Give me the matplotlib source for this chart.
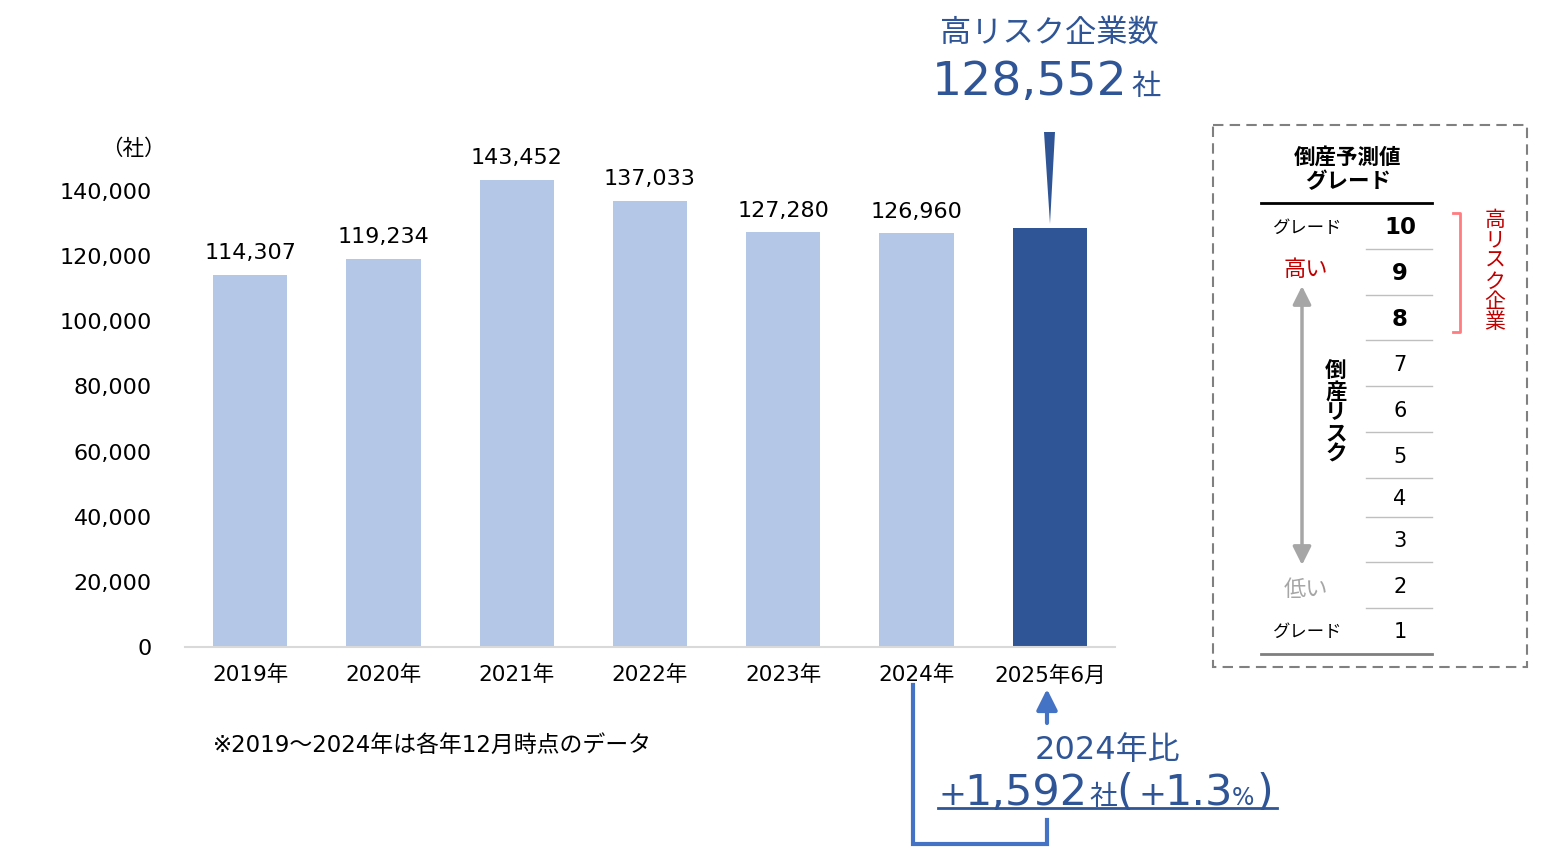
import matplotlib
matplotlib.use("Agg")
import matplotlib.pyplot as plt
from matplotlib.patches import Polygon, FancyArrowPatch, Rectangle
from matplotlib.ticker import FuncFormatter

plt.rcParams['font.family'] = ['DejaVu Sans', 'Noto Sans CJK JP']

# data
years = ["2019年", "2020年", "2021年", "2022年", "2023年", "2024年", "2025年6月"]
counts = [114307, 119234, 143452, 137033, 127280, 126960, 128552]
highlight = [False, False, False, False, False, False, True]
y_ticks = [0, 20000, 40000, 60000, 80000, 100000, 120000, 140000]

grades = ["10", "9", "8", "7", "6", "5", "4", "3", "2", "1"]
grade_bold = [True, True, True, False, False, False, False, False, False, False]

light = "#B4C7E7"
dark = "#2F5597"
navy = "#2F5597"
red = "#C00000"

W, H = 1546, 847
fig = plt.figure(figsize=(W / 100, H / 100), dpi=100)

# main bar axes (pixel layout converted to fractions)
ax = fig.add_axes([185 / W, (H - 647) / H, 930 / W, (647 - 158.4) / H])
x = list(range(len(years)))
cols = [dark if h else light for h in highlight]
ax.bar(x, counts, width=0.556, color=cols, zorder=2)
ax.set_xlim(-0.49, 6.49)
ax.set_ylim(0, 150000)
ax.set_yticks(y_ticks)
ax.yaxis.set_major_formatter(FuncFormatter(lambda v, p: f"{int(v):,}"))
ax.set_xticks(x)
ax.set_xticklabels(years)
ax.tick_params(axis='y', length=0, labelsize=16, pad=24, colors="#000000")
ax.tick_params(axis='x', length=0, labelsize=15.5, pad=13)
for s in ["top", "right", "left"]:
    ax.spines[s].set_visible(False)
ax.spines["bottom"].set_color("#D9D9D9")
ax.spines["bottom"].set_linewidth(1.5)

for i, (xi, v) in enumerate(zip(x, counts)):
    if highlight[i]:
        continue
    ax.text(xi, v + 3500, f"{v:,}", ha="center", va="bottom", fontsize=16)

# overlay in pixel coordinates for annotations
ov = fig.add_axes([0, 0, 1, 1])
ov.set_xlim(0, W)
ov.set_ylim(H, 0)
ov.axis("off")
ov.patch.set_alpha(0)

ov.text(133, 149, "（社）", ha="center", va="center", fontsize=15.5)

# headline
ov.text(1049, 33, "高リスク企業数", ha="center", va="center", fontsize=22.5, color=navy)
ov.text(1128, 95, f"{counts[-1]:,}", ha="right", va="baseline", fontsize=34, color=navy)
ov.text(1131, 95, "社", ha="left", va="baseline", fontsize=21, color=navy)
ov.add_patch(Polygon([[1044, 132], [1055, 132], [1050, 224]], closed=True,
                     facecolor=navy, edgecolor="none"))

# bottom note
ov.text(213, 745, "※2019～2024年は各年12月時点のデータ", ha="left", va="center", fontsize=16.5)

# comparison bracket
blue = "#4472C4"
ov.plot([913, 913, 1047, 1047], [685, 844, 844, 820], color=blue, lw=3, solid_joinstyle="miter")
ov.add_patch(FancyArrowPatch((1047, 723), (1047, 689), arrowstyle="-|>,head_length=5,head_width=2.5",
                             color=blue, lw=3, mutation_scale=2.5, shrinkA=0, shrinkB=0))
diff = counts[-1] - counts[-2]
pct = diff / counts[-2] * 100
ov.text(1107, 750, "2024年比", ha="center", va="center", fontsize=23, color=navy)
base = 805
ov.text(939, base, "+", ha="left", va="baseline", fontsize=24, color=navy)
ov.text(964, base, f"{diff:,}", ha="left", va="baseline", fontsize=31, color=navy)
ov.text(1089, base, "社", ha="left", va="baseline", fontsize=20, color=navy)
ov.text(1116, base, "(", ha="left", va="baseline", fontsize=31, color=navy)
ov.text(1138, base, "+", ha="left", va="baseline", fontsize=24, color=navy)
ov.text(1164, base, f"{pct:.1f}", ha="left", va="baseline", fontsize=31, color=navy)
ov.text(1232, base, "%", ha="left", va="baseline", fontsize=17, color=navy)
ov.text(1257, base, ")", ha="left", va="baseline", fontsize=31, color=navy)
ov.plot([938, 1277], [808, 808], color=navy, lw=2)

# grade legend box
ov.add_patch(Rectangle((1213, 125), 314, 542, fill=False, edgecolor="#808080",
                       lw=1.5, linestyle=(0, (5, 3))))
ov.text(1348, 157, "倒産予測値", ha="center", va="center", fontsize=15.5, fontweight="bold")
ov.text(1348, 182, "グレード", ha="center", va="center", fontsize=15.5, fontweight="bold")
ov.plot([1261, 1432], [203, 203], color="#000000", lw=2)
ov.plot([1261, 1432], [654, 654], color="#7F7F7F", lw=2)

row_y = [228, 273, 320, 365, 411, 457, 499, 541, 587, 632]
sep_y = [249, 295, 340, 386, 432, 478, 517, 562, 608]
for g, yy, b in zip(grades, row_y, grade_bold):
    ov.text(1400, yy, g, ha="center", va="center", fontsize=16.5 if b else 15,
            fontweight="bold" if b else "normal")
for yy in sep_y:
    ov.plot([1366, 1432], [yy, yy], color="#BFBFBF", lw=1)

ov.text(1308, 228, "グレード", ha="center", va="center", fontsize=12.5)
ov.text(1308, 632, "グレード", ha="center", va="center", fontsize=12.5)
ov.text(1306, 270, "高い", ha="center", va="center", fontsize=16, color=red)
ov.text(1306, 590, "低い", ha="center", va="center", fontsize=16, color="#A6A6A6")
ov.add_patch(FancyArrowPatch((1302, 565), (1302, 286), arrowstyle="<|-|>,head_length=5,head_width=2.5",
                             color="#A6A6A6", lw=2.5, mutation_scale=2.2, shrinkA=0, shrinkB=0))

# vertical labels, one character per step
for k, ch in enumerate("倒産リスク"):
    ov.text(1336, 371 + 21 * k, ch, ha="center", va="center", fontsize=15.5, fontweight="bold")

ov.plot([1453, 1460, 1460, 1453], [213, 213, 332, 332], color="#FF7C80", lw=2)
for k, ch in enumerate("高リスク企業"):
    ov.text(1495, 220 + 20.5 * k, ch, ha="center", va="center", fontsize=15, color=red)

fig.savefig("out.png", dpi=100)
